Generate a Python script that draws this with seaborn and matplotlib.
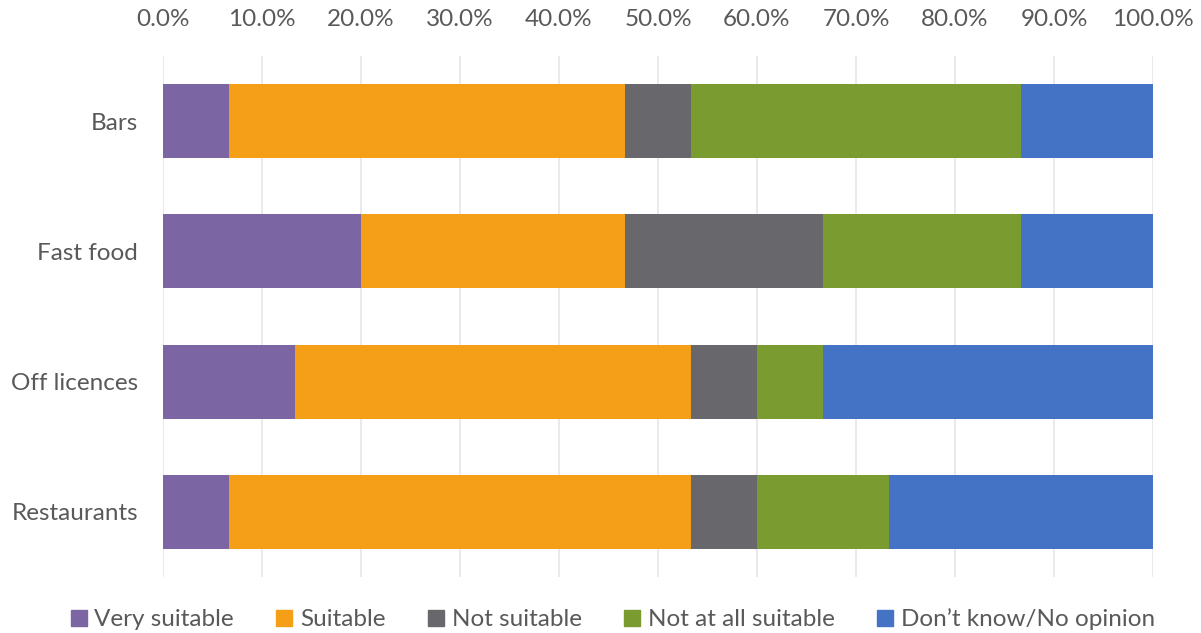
import matplotlib
matplotlib.use("Agg")
import matplotlib.pyplot as plt
from matplotlib.lines import Line2D
from matplotlib.ticker import PercentFormatter
import seaborn as sns
import pandas as pd

categories = ["Bars", "Fast food", "Off licences", "Restaurants"]
series_names = ["Very suitable", "Suitable", "Not suitable", "Not at all suitable", "Don\u2019t know/No opinion"]
very_suitable = [6.67, 20.0, 13.33, 6.67]
suitable = [40.0, 26.67, 40.0, 46.67]
not_suitable = [6.67, 20.0, 6.67, 6.67]
not_at_all = [33.33, 20.0, 6.67, 13.33]
dont_know = [13.33, 13.33, 33.33, 26.66]
x_ticks = [0, 10, 20, 30, 40, 50, 60, 70, 80, 90, 100]

colors = ["#7B65A3", "#F59F18", "#68676C", "#7A9B2F", "#4472C4"]
text_color = "#595959"

sns.set_theme(style="white")
plt.rcParams["font.family"] = ["Lato", "DejaVu Sans"]

series = [very_suitable, suitable, not_suitable, not_at_all, dont_know]
df = pd.DataFrame({name: vals for name, vals in zip(series_names, series)})
df["category"] = categories
cum = df[series_names].cumsum(axis=1)

fig = plt.figure(figsize=(12.01, 6.33), dpi=100)
ax = fig.add_axes([163 / 1201, 1 - 577 / 633, (1153 - 163) / 1201, (577 - 56) / 633])

# Draw cumulative totals from the outermost segment inwards so each stack shows
for name, color in reversed(list(zip(series_names, colors))):
    sns.barplot(x=cum[name], y=df["category"], orient="h", color=color,
                width=0.567, saturation=1, linewidth=0, ax=ax, order=categories)

ax.set_xlim(0, 100)
ax.set_ylim(3.5, -0.5)
ax.set_xticks(x_ticks)
ax.xaxis.set_major_formatter(PercentFormatter(decimals=1))
ax.xaxis.tick_top()
ax.set_xlabel("")
ax.set_ylabel("")
ax.grid(axis="x", color="#E6E6E6", linewidth=1.2, zorder=0)
ax.set_axisbelow(True)
for s in ax.spines.values():
    s.set_visible(False)
ax.tick_params(axis="x", length=0, pad=19, labelsize=17.5, labelcolor=text_color)
ax.tick_params(axis="y", length=0, pad=18, labelsize=17.5, labelcolor=text_color)

handles = [Line2D([0], [0], marker="s", linestyle="none", markersize=11,
                  markerfacecolor=c, markeredgecolor=c) for c in colors]
fig.legend(handles, series_names, loc="lower center", ncol=5,
           bbox_to_anchor=(0.509, -0.03), frameon=False, fontsize=17.5,
           labelcolor=text_color, handletextpad=0.2, columnspacing=1.62,
           handlelength=0.9)

fig.savefig("out.png", dpi=100, facecolor="white")
